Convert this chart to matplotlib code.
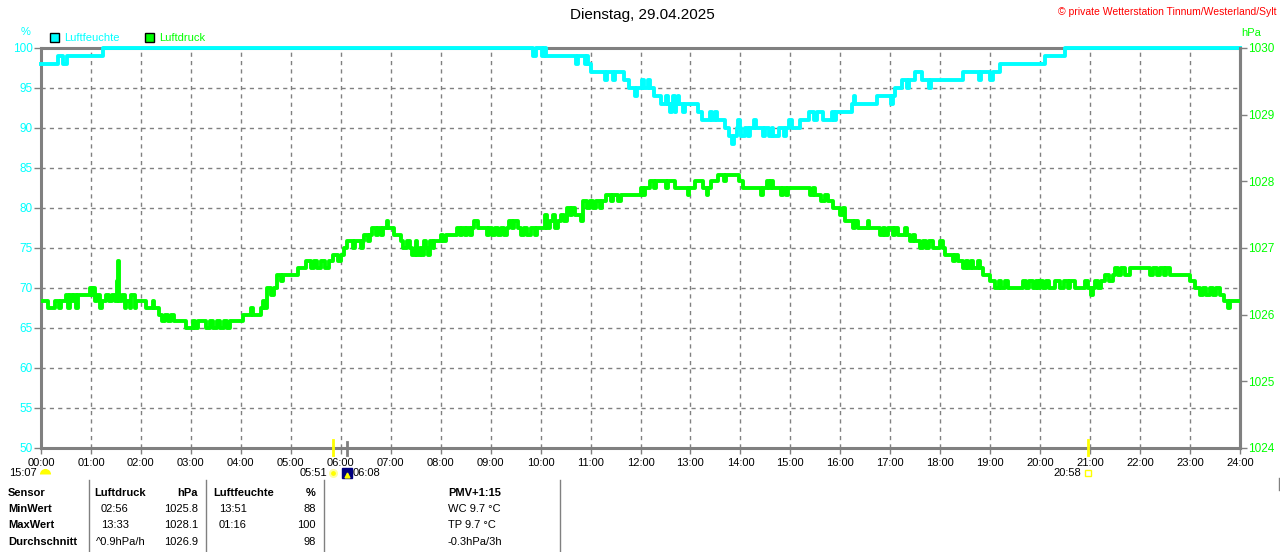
import matplotlib
matplotlib.use('Agg')
import matplotlib.pyplot as plt
from matplotlib.patches import Rectangle
from matplotlib.lines import Line2D

plt.rcParams['font.family'] = ['Liberation Sans', 'DejaVu Sans']

# Luftfeuchte (%), Stufenwerte: Uhrzeit in Stunden
hum_t = [0.00, 0.35, 0.44, 0.52, 1.25, 9.84, 9.91, 10.02, 10.06, 10.10,
         10.70, 10.74, 10.88, 10.92, 10.95, 11.00, 11.28, 11.33, 11.44, 11.49,
         11.66, 11.77, 11.89, 11.93, 12.04, 12.08, 12.16, 12.20, 12.27, 12.41,
         12.52, 12.55, 12.60, 12.63, 12.66, 12.69, 12.72, 12.75, 12.78, 12.86,
         12.90, 13.16, 13.24, 13.40, 13.44, 13.50, 13.54, 13.70, 13.77, 13.84,
         13.88, 13.93, 13.96, 13.99, 14.02, 14.10, 14.16, 14.20, 14.27, 14.31,
         14.45, 14.50, 14.58, 14.63, 14.66, 14.77, 14.88, 14.92, 14.98, 15.03,
         15.20, 15.38, 15.48, 15.53, 15.66, 15.84, 15.88, 15.91, 16.24, 16.27,
         16.30, 16.74, 17.02, 17.06, 17.09, 17.24, 17.34, 17.38, 17.49, 17.63,
         17.77, 17.82, 18.45, 18.77, 18.82, 18.99, 19.06, 19.20, 20.09, 20.49,
         24.00]
hum_v = [98, 99, 98, 99, 100, 99, 100, 99, 100, 99,
         98, 99, 98, 99, 98, 97, 96, 97, 96, 97,
         96, 95, 94, 95, 96, 95, 96, 95, 94, 93,
         94, 93, 92, 93, 94, 92, 93, 94, 93, 92,
         93, 92, 91, 92, 91, 92, 91, 90, 89, 88,
         89, 90, 91, 90, 89, 90, 89, 90, 91, 90,
         89, 90, 89, 90, 89, 90, 89, 90, 91, 90,
         91, 92, 91, 92, 91, 92, 91, 92, 93, 94,
         93, 94, 93, 94, 95, 96, 95, 96, 97, 96,
         95, 96, 97, 96, 97, 96, 97, 98, 99, 100,
         100]

# Luftdruck (hPa)
pres_t = [0.00, 0.15, 0.28, 0.36, 0.40, 0.51, 0.55, 0.58, 0.62, 0.66,
          0.70, 0.74, 0.98, 1.02, 1.05, 1.08, 1.12, 1.18, 1.22, 1.30,
          1.36, 1.42, 1.48, 1.52, 1.54, 1.56, 1.62, 1.68, 1.71, 1.78,
          1.81, 1.88, 1.91, 2.10, 2.24, 2.27, 2.36, 2.42, 2.48, 2.55,
          2.60, 2.66, 2.90, 3.04, 3.08, 3.14, 3.30, 3.38, 3.45, 3.52,
          3.58, 3.66, 3.72, 3.78, 4.05, 4.20, 4.24, 4.40, 4.45, 4.48,
          4.53, 4.60, 4.66, 4.73, 4.80, 4.84, 5.15, 5.30, 5.40, 5.46,
          5.52, 5.60, 5.68, 5.76, 5.85, 5.95, 6.00, 6.07, 6.13, 6.25,
          6.28, 6.40, 6.44, 6.47, 6.55, 6.58, 6.63, 6.70, 6.74, 6.80,
          6.84, 6.92, 6.95, 7.07, 7.20, 7.25, 7.33, 7.38, 7.42, 7.48,
          7.50, 7.53, 7.58, 7.62, 7.66, 7.70, 7.74, 7.78, 7.84, 7.87,
          8.00, 8.05, 8.10, 8.32, 8.38, 8.42, 8.48, 8.52, 8.58, 8.62,
          8.66, 8.75, 8.92, 8.97, 9.02, 9.08, 9.14, 9.20, 9.26, 9.32,
          9.37, 9.42, 9.46, 9.55, 9.60, 9.66, 9.72, 9.80, 9.88, 9.92,
          10.09, 10.12, 10.18, 10.24, 10.28, 10.34, 10.40, 10.46, 10.52, 10.58,
          10.62, 10.68, 10.80, 10.85, 10.93, 10.98, 11.05, 11.10, 11.18, 11.22,
          11.30, 11.40, 11.45, 11.55, 11.60, 12.00, 12.05, 12.10, 12.20, 12.28,
          12.32, 12.52, 12.56, 12.70, 12.95, 12.98, 13.10, 13.25, 13.33, 13.36,
          13.42, 13.55, 13.68, 13.72, 13.98, 14.05, 14.42, 14.46, 14.54, 14.58,
          14.62, 14.66, 14.82, 14.86, 14.92, 14.96, 15.40, 15.45, 15.50, 15.62,
          15.70, 15.75, 15.85, 16.00, 16.05, 16.10, 16.25, 16.30, 16.35, 16.55,
          16.58, 16.80, 16.85, 16.90, 16.96, 17.05, 17.10, 17.15, 17.30, 17.34,
          17.40, 17.45, 17.50, 17.60, 17.65, 17.72, 17.78, 17.85, 18.00, 18.05,
          18.10, 18.25, 18.30, 18.36, 18.45, 18.52, 18.56, 18.62, 18.66, 18.75,
          18.80, 18.85, 19.00, 19.10, 19.18, 19.22, 19.30, 19.35, 19.65, 19.72,
          19.78, 19.85, 19.92, 19.96, 20.00, 20.06, 20.12, 20.18, 20.30, 20.40,
          20.48, 20.55, 20.60, 20.70, 20.90, 20.95, 21.02, 21.05, 21.10, 21.16,
          21.22, 21.30, 21.38, 21.45, 21.50, 21.56, 21.62, 21.70, 21.80, 22.20,
          22.26, 22.34, 22.40, 22.48, 22.52, 22.60, 23.00, 23.10, 23.20, 23.26,
          23.32, 23.40, 23.46, 23.52, 23.60, 23.68, 23.75, 23.80, 24.00]
pres_v = [1026.2, 1026.1, 1026.2, 1026.1, 1026.2, 1026.3, 1026.1, 1026.3, 1026.2, 1026.3,
          1026.1, 1026.3, 1026.4, 1026.3, 1026.4, 1026.2, 1026.3, 1026.1, 1026.2, 1026.3,
          1026.2, 1026.3, 1026.2, 1026.5, 1026.8, 1026.2, 1026.3, 1026.1, 1026.2, 1026.1,
          1026.3, 1026.1, 1026.2, 1026.1, 1026.2, 1026.1, 1026.0, 1025.9, 1026.0, 1025.9,
          1026.0, 1025.9, 1025.8, 1025.9, 1025.8, 1025.9, 1025.8, 1025.9, 1025.8, 1025.9,
          1025.8, 1025.9, 1025.8, 1025.9, 1026.0, 1026.1, 1026.0, 1026.1, 1026.2, 1026.1,
          1026.4, 1026.3, 1026.4, 1026.6, 1026.5, 1026.6, 1026.7, 1026.8, 1026.7, 1026.8,
          1026.7, 1026.8, 1026.7, 1026.8, 1026.9, 1026.8, 1026.9, 1027.0, 1027.1, 1027.0,
          1027.1, 1027.0, 1027.1, 1027.2, 1027.1, 1027.2, 1027.3, 1027.2, 1027.3, 1027.2,
          1027.3, 1027.4, 1027.3, 1027.2, 1027.1, 1027.0, 1027.1, 1027.0, 1026.9, 1027.0,
          1027.1, 1026.9, 1027.0, 1026.9, 1027.1, 1027.0, 1026.9, 1027.1, 1027.0, 1027.1,
          1027.2, 1027.1, 1027.2, 1027.3, 1027.2, 1027.3, 1027.2, 1027.3, 1027.2, 1027.3,
          1027.4, 1027.3, 1027.2, 1027.3, 1027.2, 1027.3, 1027.2, 1027.3, 1027.2, 1027.3,
          1027.4, 1027.3, 1027.4, 1027.3, 1027.2, 1027.3, 1027.2, 1027.3, 1027.2, 1027.3,
          1027.5, 1027.3, 1027.4, 1027.5, 1027.3, 1027.4, 1027.5, 1027.4, 1027.6, 1027.5,
          1027.6, 1027.5, 1027.4, 1027.7, 1027.6, 1027.7, 1027.6, 1027.7, 1027.6, 1027.7,
          1027.8, 1027.7, 1027.8, 1027.7, 1027.8, 1027.9, 1027.8, 1027.9, 1028.0, 1027.9,
          1028.0, 1027.9, 1028.0, 1027.9, 1027.8, 1027.9, 1028.0, 1027.9, 1027.8, 1027.9,
          1028.0, 1028.1, 1028.0, 1028.1, 1028.0, 1027.9, 1027.8, 1027.9, 1028.0, 1027.9,
          1028.0, 1027.9, 1027.8, 1027.9, 1027.8, 1027.9, 1027.8, 1027.9, 1027.8, 1027.7,
          1027.8, 1027.7, 1027.6, 1027.5, 1027.6, 1027.4, 1027.3, 1027.4, 1027.3, 1027.4,
          1027.3, 1027.2, 1027.3, 1027.2, 1027.3, 1027.2, 1027.3, 1027.2, 1027.3, 1027.2,
          1027.1, 1027.2, 1027.1, 1027.0, 1027.1, 1027.0, 1027.1, 1027.0, 1027.1, 1027.0,
          1026.9, 1026.8, 1026.9, 1026.8, 1026.7, 1026.8, 1026.7, 1026.8, 1026.7, 1026.8,
          1026.7, 1026.6, 1026.5, 1026.4, 1026.5, 1026.4, 1026.5, 1026.4, 1026.5, 1026.4,
          1026.5, 1026.4, 1026.5, 1026.4, 1026.5, 1026.4, 1026.5, 1026.4, 1026.5, 1026.4,
          1026.5, 1026.4, 1026.5, 1026.4, 1026.5, 1026.4, 1026.3, 1026.4, 1026.5, 1026.4,
          1026.5, 1026.6, 1026.5, 1026.6, 1026.7, 1026.6, 1026.7, 1026.6, 1026.7, 1026.6,
          1026.7, 1026.6, 1026.7, 1026.6, 1026.7, 1026.6, 1026.5, 1026.4, 1026.3, 1026.4,
          1026.3, 1026.4, 1026.3, 1026.4, 1026.3, 1026.2, 1026.1, 1026.2, 1026.2]

hours = list(range(25))
hour_labels = ['%02d:00' % h for h in hours]

# Sonnen-/Mondzeiten
event_t = [5 + 51 / 60, 6 + 8 / 60, 20 + 58 / 60]
event_labels = ['05:51', '06:08', '20:58']
moon_label = '15:07'

table_head = ['Sensor', 'Luftdruck', 'hPa', 'Luftfeuchte', '%', 'PMV+1:15']
row_names = ['MinWert', 'MaxWert', 'Durchschnitt']
pres_when = ['02:56', '13:33', '^0.9hPa/h']
pres_vals = ['1025.8', '1028.1', '1026.9']
hum_when = ['13:51', '01:16', '']
hum_vals = ['88', '100', '98']
extra = ['WC 9.7 °C', 'TP 9.7 °C', '-0.3hPa/3h']

CYAN = '#00ffff'
GREEN = '#00ff00'
GREY = '#808080'
W, H = 1280, 552


def fx(x):
    return x / W


def fy(y):
    return 1 - y / H


fig = plt.figure(figsize=(12.8, 5.52), dpi=100)
ax = fig.add_axes([fx(41), fy(448), (1240 - 41) / W, 400 / H])
ax2 = ax.twinx()

ax.step(hum_t, hum_v, where='post', color=CYAN, lw=2.8, zorder=3, clip_on=False)
ax2.step(pres_t, pres_v, where='post', color=GREEN, lw=2.8, zorder=3)

ax.set_xlim(0, 24)
ax.set_ylim(50, 100)
ax2.set_ylim(1024, 1030)
ax.set_xticks(hours)
ax.set_xticklabels(hour_labels)
ax.set_yticks(range(50, 101, 5))
ax2.set_yticks(range(1024, 1031))

ax.grid(True, color=GREY, linestyle=(0, (3, 3)), linewidth=1)
ax.tick_params(axis='x', colors=GREY, labelcolor='black', length=4, width=1, labelsize=8, pad=3)
ax.tick_params(axis='y', colors=GREY, labelcolor=CYAN, length=5, width=1, labelsize=8.5, pad=1)
ax2.tick_params(axis='y', colors=GREY, labelcolor=GREEN, length=5, width=1, labelsize=8.5, pad=1)
for s in ax.spines.values():
    s.set_color(GREY)
    s.set_linewidth(2.2)
for name, s in ax2.spines.items():
    s.set_color(GREY)
    s.set_linewidth(2.2)
    s.set_visible(name == 'right')

# Markierungen unter der Zeitachse
xt = ax.get_xaxis_transform()
ax.plot([event_t[0]] * 2, [-0.0175, 0.02], color='#ffff00', lw=2, transform=xt, clip_on=False, zorder=5)
ax.plot([event_t[1]] * 2, [-0.0175, 0.015], color=GREY, lw=2, transform=xt, clip_on=False, zorder=5)
ax.plot([event_t[2]] * 2, [-0.0175, 0.02], color='#ffff00', lw=2, transform=xt, clip_on=False, zorder=5)

ly = -0.0625
ax.annotate(event_labels[0], (event_t[0], ly), xycoords=xt, xytext=(-4.5, 0), textcoords='offset points',
            ha='right', va='center', fontsize=8)
ax.plot(event_t[0], ly, 'o', ms=5, mfc='#ffff00', mec='#ffffa0', mew=1.5, transform=xt, clip_on=False)
ax.plot(event_t[1], ly, 's', ms=7, mfc='#000080', mec='#000080', transform=xt, clip_on=False)
ax.plot(event_t[1], ly - 0.005, '^', ms=3.5, mfc='#ffff00', mec='#ffff00', transform=xt, clip_on=False)
ax.annotate(event_labels[1], (event_t[1], ly), xycoords=xt, xytext=(4, 0), textcoords='offset points',
            ha='left', va='center', fontsize=8)
ax.annotate(event_labels[2], (event_t[2], ly), xycoords=xt, xytext=(-5, 0), textcoords='offset points',
            ha='right', va='center', fontsize=8)
ax.plot(event_t[2], ly, 's', ms=4, mfc='none', mec='#ffff00', mew=1, transform=xt, clip_on=False)

fig.text(fx(9), fy(473), moon_label, ha='left', va='center', fontsize=8)
fig.add_artist(Line2D([fx(45)], [fy(474)], transform=fig.transFigure, marker='o', ms=8,
                      fillstyle='top', mfc='#ffff00', mec='none', markerfacecoloralt='none'))

# Titel, Copyright, Achsentitel, Legende
fig.text(fx(642), fy(15), 'Dienstag, 29.04.2025', ha='center', va='center', fontsize=11)
fig.text(fx(1276), fy(12), '© private Wetterstation Tinnum/Westerland/Sylt', ha='right', va='center',
         fontsize=7.5, color='red')
fig.text(fx(26), fy(32), '%', ha='center', va='center', fontsize=8, color=CYAN)
fig.text(fx(1241), fy(33), 'hPa', ha='left', va='center', fontsize=8, color=GREEN)
fig.add_artist(Rectangle((fx(50), fy(42)), 9 / W, 9 / H, transform=fig.transFigure, fc=CYAN, ec='black', lw=1))
fig.text(fx(64), fy(38), 'Luftfeuchte', ha='left', va='center', fontsize=8, color=CYAN)
fig.add_artist(Rectangle((fx(145), fy(42)), 9 / W, 9 / H, transform=fig.transFigure, fc=GREEN, ec='black', lw=1))
fig.text(fx(159), fy(38), 'Luftdruck', ha='left', va='center', fontsize=8, color=GREEN)

# Tabelle unten
for xl in [88.5, 206, 323.5, 559.5]:
    fig.add_artist(Line2D([fx(xl)] * 2, [fy(480), fy(552)], transform=fig.transFigure, color=GREY, lw=1))
fig.add_artist(Line2D([fx(1279)] * 2, [fy(478), fy(490)], transform=fig.transFigure, color=GREY, lw=1))

row_y = [509, 525, 542]
bold = dict(fontsize=8, fontweight='bold', va='center')
norm = dict(fontsize=8, va='center')
fig.text(fx(8), fy(493), table_head[0], ha='left', **bold)
fig.text(fx(94), fy(493), table_head[1], ha='left', **bold)
fig.text(fx(198), fy(493), table_head[2], ha='right', **bold)
fig.text(fx(213), fy(493), table_head[3], ha='left', **bold)
fig.text(fx(316), fy(493), table_head[4], ha='right', **bold)
fig.text(fx(448), fy(493), table_head[5], ha='left', **bold)
for i, y in enumerate(row_y):
    fig.text(fx(8), fy(y), row_names[i], ha='left', **bold)
    fig.text(fx(96 if i == 2 else 101), fy(y), pres_when[i], ha='left', **norm)
    fig.text(fx(198), fy(y), pres_vals[i], ha='right', **norm)
    fig.text(fx(219), fy(y), hum_when[i], ha='left', **norm)
    fig.text(fx(316), fy(y), hum_vals[i], ha='right', **norm)
    fig.text(fx(448), fy(y), extra[i], ha='left', **norm)

fig.savefig('out.png', dpi=100, facecolor='white')
